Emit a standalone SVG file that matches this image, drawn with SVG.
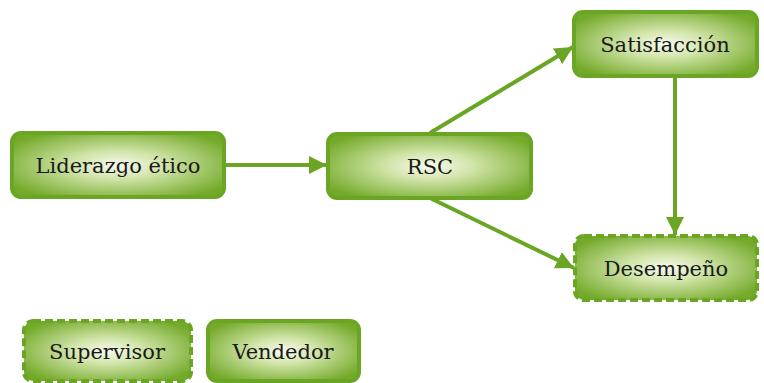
<svg xmlns="http://www.w3.org/2000/svg" width="764" height="383" viewBox="0 0 764 383">
<style>
.box{fill:url(#g);stroke:#6aa524;stroke-width:4}
.dash{stroke-dasharray:8 4}
.lbl{font-family:"DejaVu Serif","Liberation Serif",serif;font-size:21px;fill:#1a1a1a;text-anchor:middle;dominant-baseline:central}
.con{stroke:#6aa524;stroke-width:4;fill:none;marker-end:url(#ah)}
</style>
<defs>
<radialGradient id="g" cx="50%" cy="50%" r="60%">
<stop offset="0" stop-color="#f6faee"/>
<stop offset="0.35" stop-color="#d2e5aa"/>
<stop offset="1" stop-color="#74aa2a"/>
</radialGradient>
<marker id="ah" viewBox="0 0 10 10" refX="10" refY="5" markerWidth="4.5" markerHeight="4.5" markerUnits="strokeWidth" orient="auto">
<path d="M0,0 L10,5 L0,10 z" fill="#6aa524"/>
</marker>
</defs>
<rect width="764" height="383" fill="#fff"/>
<g id="connectors">
<line class="con" x1="224" y1="165" x2="327" y2="165"/>
<line class="con" x1="430" y1="133" x2="573" y2="47"/>
<line class="con" x1="430" y1="198" x2="574" y2="268"/>
<line class="con" x1="675" y1="77" x2="675" y2="235"/>
</g>
<g id="liderazgo">
<rect class="box" x="12" y="133" width="212" height="64" rx="9"/>
<text class="lbl" x="118" y="166">Liderazgo ético</text>
</g>
<g id="rsc">
<rect class="box" x="328" y="134" width="203" height="64" rx="9"/>
<text class="lbl" x="430" y="167">RSC</text>
</g>
<g id="satisfaccion">
<rect class="box" x="574" y="12" width="183" height="64" rx="9"/>
<text class="lbl" x="665" y="45">Satisfacción</text>
</g>
<g id="desempeno">
<rect class="box dash" x="575" y="236" width="182" height="64" rx="9"/>
<text class="lbl" x="666" y="269">Desempeño</text>
</g>
<g id="supervisor">
<rect class="box dash" x="24" y="321" width="167" height="60" rx="9"/>
<text class="lbl" x="107" y="352">Supervisor</text>
</g>
<g id="vendedor">
<rect class="box" x="208" y="321" width="151" height="60" rx="9"/>
<text class="lbl" x="283" y="352">Vendedor</text>
</g>
</svg>
